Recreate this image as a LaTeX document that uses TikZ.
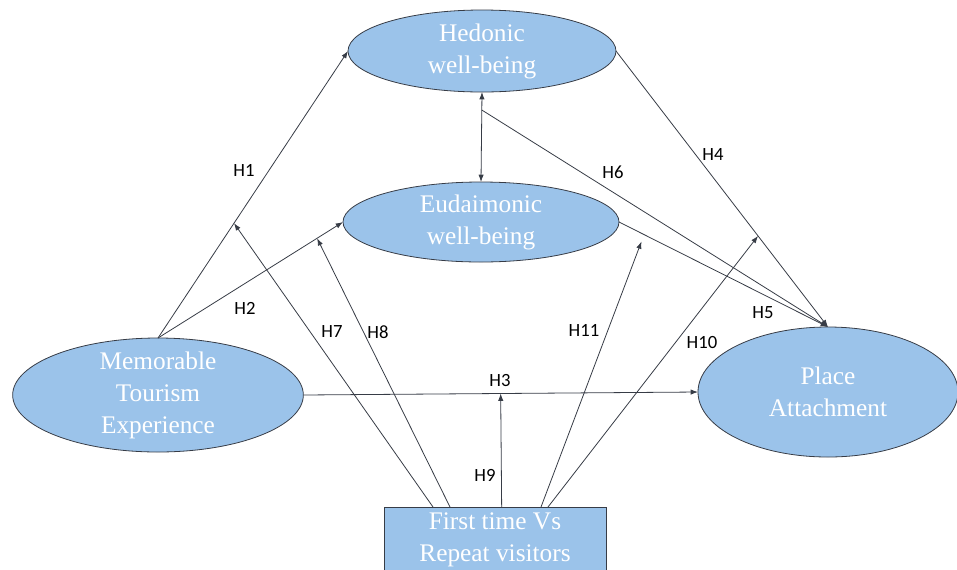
\documentclass[tikz,border=0pt]{standalone}
\usepackage{fontspec}
\setmainfont{Liberation Serif}
\newfontfamily\hypfont{Carlito}
\usetikzlibrary{shapes.geometric, arrows.meta}
\definecolor{constructblue}{RGB}{155,195,234}
\definecolor{edgegray}{RGB}{55,60,70}
\tikzstyle{construct} = [ellipse, draw=edgegray, line width=0.6pt, fill=constructblue, text=white, align=center, font=\fontsize{19}{24}\selectfont, inner sep=-4pt, outer sep=0pt]
\tikzstyle{moderator} = [rectangle, draw=edgegray, line width=0.6pt, fill=constructblue, text=white, align=center, font=\fontsize{19}{24}\selectfont, minimum width=166.5pt, minimum height=48.75pt, inner sep=0pt, outer sep=0pt]
\tikzstyle{arrow} = [draw=edgegray, line width=0.6pt, ->, >={Latex[length=5.5pt,width=4pt]}]
\tikzstyle{hyp} = [font=\hypfont\fontsize{14}{16}\selectfont, text=black, inner sep=0pt]

\begin{document}
\begin{tikzpicture}[x=0.75pt, y=-0.75pt]
            \useasboundingbox (0,0) rectangle (957,569);
            \node [construct, minimum width=201pt, minimum height=61.5pt] at (482,51) (hedonic) {Hedonic\\well-being};
            \node [construct, minimum width=207pt, minimum height=60pt] at (481,222) (eudaimonic) {Eudaimonic\\well-being};
            \node [construct, minimum width=218pt, minimum height=85.5pt] at (158,395) (mte) {Memorable\\Tourism\\Experience};
            \node [construct, minimum width=195pt, minimum height=97.5pt] at (828,392) (place) {Place\\Attachment};
            \node [moderator] at (495,539.5) (fvr) {First time Vs\\Repeat visitors};
            \draw [arrow] (mte.north) -- coordinate[pos=0.4] (h1mid) (hedonic.west);
            \draw [arrow] (mte.north) -- coordinate[pos=0.86] (h2mid) (eudaimonic.west);
            \draw [arrow] (mte.east) -- coordinate[pos=0.5] (h3mid) (place.west);
            \draw [arrow] (hedonic.east) -- coordinate[pos=0.67] (h4mid) (place.north);
            \draw [arrow] (eudaimonic.east) -- coordinate[pos=0.12] (h5mid) (place.north);
            \draw [arrow, <->] (hedonic.south) -- coordinate[pos=0.2] (h6start) (eudaimonic.north);
            \draw [arrow] (h6start) -- (place.north);
            \draw [arrow] ([xshift=-46.5pt]fvr.north) -- (h1mid);
            \draw [arrow] ([xshift=-33.75pt]fvr.north) -- (h2mid);
            \draw [arrow] ([xshift=5pt]fvr.north) -- (h3mid);
            \draw [arrow] ([xshift=39.75pt]fvr.north) -- (h4mid);
            \draw [arrow, shorten >=5.5pt] ([xshift=34.5pt]fvr.north) -- (h5mid);
            \node [hyp] at (244,170) (lab1) {H1};
            \node [hyp] at (245,308) (lab2) {H2};
            \node [hyp] at (500,380) (lab3) {H3};
            \node [hyp] at (713,155) (lab4) {H4};
            \node [hyp] at (763,313) (lab5) {H5};
            \node [hyp] at (613,172) (lab6) {H6};
            \node [hyp] at (332,332) (lab7) {H7};
            \node [hyp] at (378,332) (lab8) {H8};
            \node [hyp] at (485,475) (lab9) {H9};
            \node [hyp] at (702,342) (lab10) {H10};
            \node [hyp] at (584,330) (lab11) {H11};
            \end{tikzpicture}
\end{document}
